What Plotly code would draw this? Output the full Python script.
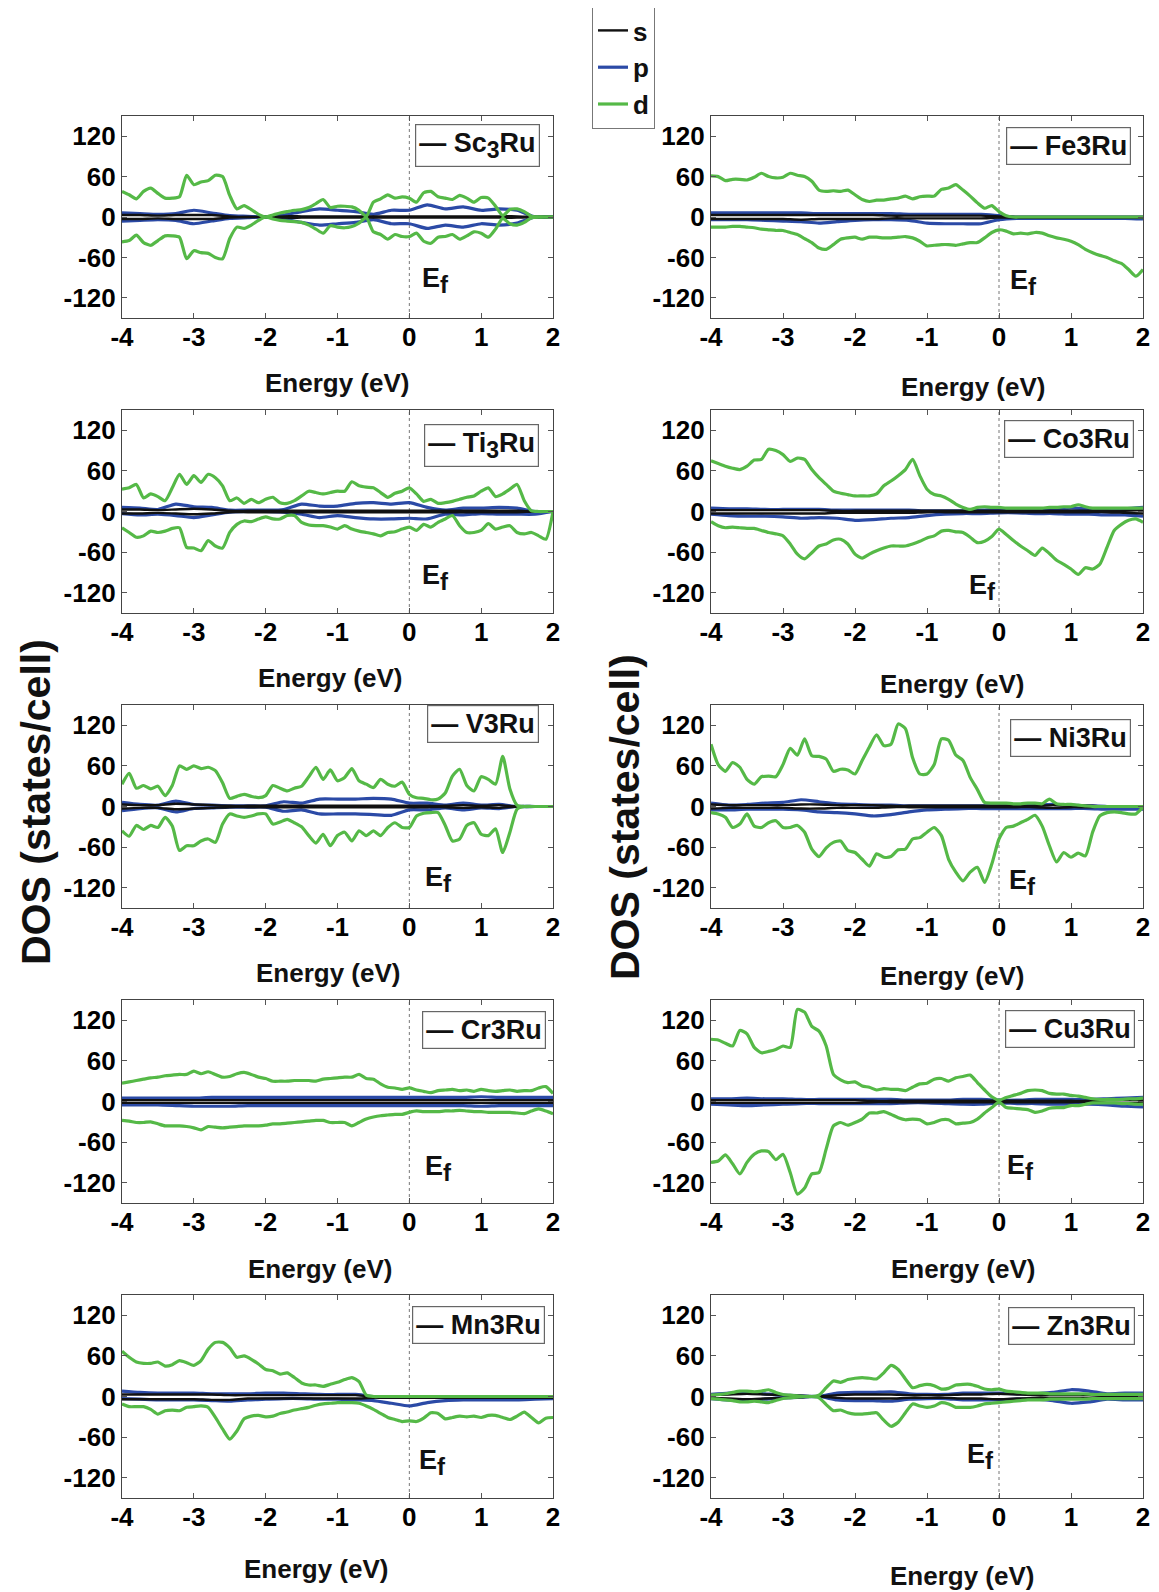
import plotly.graph_objects as go

# The page shows the figure offset by the default 8 px body margin, so the figure is
# made 8 px smaller and every pixel position below is given in page coordinates.
PAGE_W, PAGE_H = 1159, 1592
OFF = 8
W, H = PAGE_W - OFF, PAGE_H - OFF

# ---------------- data -----------------
E_D = [round(-4 + 0.1 * i, 1) for i in range(61)]      # energy grid for d states (eV)
E_SP = [round(-4 + 0.25 * i, 2) for i in range(25)]    # energy grid for s and p states (eV)
X_TICKS = [-4, -3, -2, -1, 0, 1, 2]
Y_TICKS = [-120, -60, 0, 60, 120]

# Sc3Ru
SC_D_UP = [38, 33, 27, 38, 43, 35, 28, 28, 30, 62, 48, 52, 54, 62, 60, 32, 12, 17, 11, 4, 0, 3, 6, 8, 10, 11, 14, 20, 26, 14,
           16, 16, 15, 10, 1, 22, 27, 33, 28, 30, 28, 22, 36, 38, 30, 28, 26, 32, 28, 22, 29, 28, 16, 2, 11, 12, 8, 1, 0, 0, 0]
SC_D_DN = [-37, -35, -27, -38, -42, -35, -28, -28, -30, -62, -50, -53, -54, -60, -62, -32, -15, -17, -12, -5, 0, -3, -5, -6, -7, -8, -12, -18, -24, -13,
           -15, -16, -14, -9, -1, -22, -26, -33, -26, -29, -29, -24, -36, -39, -30, -29, -26, -33, -28, -22, -24, -30, -18, -2, -10, -12, -8, -1, 0, 0, 0]
SC_P_UP = [6, 5, 4, 5, 10, 6, 2, 1, 0, 3, 8, 12, 10, 8, 4, 10, 10, 18, 12, 15, 10, 12, 10, 0, 0]
SC_P_DN = [-6, -5, -4, -5, -10, -6, -2, -1, 0, -3, -8, -12, -10, -8, -4, -10, -10, -17, -12, -15, -10, -12, -9, 0, 0]
SC_S_UP = [3, 3, 2, 3, 3, 3, 1, 0, 0, 1, 1, 1, 1, 1, 1, 1, 1, 1, 1, 1, 1, 1, 1, 0, 0]
SC_S_DN = [-3, -3, -2, -3, -3, -3, -1, 0, 0, -1, -1, -1, -1, -1, -1, -1, -1, -1, -1, -1, -1, -1, -1, 0, 0]

# Fe3Ru
FE_D_UP = [61, 60, 54, 56, 56, 55, 59, 65, 60, 58, 59, 65, 62, 60, 53, 40, 38, 39, 38, 40, 33, 26, 23, 25, 25, 27, 28, 31, 27, 30,
           31, 31, 41, 43, 48, 40, 31, 21, 13, 17, 8, 2, 0, 0, 0, 0, 0, 0, 0, 0, 0, 0, 0, 0, 0, 0, 0, 0, 0, 0, 0]
FE_D_DN = [-15, -15, -15, -14, -14, -15, -16, -18, -19, -20, -20, -23, -26, -32, -38, -46, -48, -41, -33, -31, -30, -33, -30, -30, -31, -31, -30, -29, -31, -36,
           -43, -42, -41, -41, -42, -40, -38, -38, -31, -23, -19, -21, -25, -24, -25, -23, -24, -28, -31, -33, -36, -41, -48, -53, -57, -60, -65, -69, -78, -88, -78]
FE_P_UP = [6, 6, 6, 6, 6, 6, 5, 5, 5, 5, 5, 4, 4, 4, 4, 4, 2, 0, 0, 0, 0, 0, 0, 0, 0]
FE_P_DN = [-4, -4, -4, -5, -6, -7, -9, -7, -5, -4, -4, -5, -9, -10, -10, -10, -4, -2, -2, -2, -2, -2, -2, -2, -3]
FE_S_UP = [3, 3, 3, 3, 3, 3, 3, 3, 3, 3, 2, 2, 2, 2, 2, 2, 1, 0, 0, 0, 0, 0, 0, 0, 0]
FE_S_DN = [-3, -3, -3, -3, -3, -4, -3, -3, -3, -3, -2, -2, -2, -2, -2, -2, -1, -1, -1, -1, -1, -1, -1, -1, -1]

# Ti3Ru
TI_D_UP = [33, 35, 40, 20, 26, 22, 16, 35, 55, 40, 53, 43, 55, 50, 38, 16, 20, 12, 18, 13, 18, 21, 13, 12, 16, 23, 30, 28, 26, 28,
           30, 30, 44, 38, 36, 35, 28, 21, 27, 30, 35, 26, 15, 18, 12, 13, 15, 18, 21, 23, 30, 35, 22, 26, 33, 40, 16, 1, 0, 0, 0]
TI_D_DN = [-24, -31, -38, -36, -29, -31, -29, -25, -24, -53, -54, -58, -43, -51, -54, -31, -19, -14, -15, -11, -8, -11, -11, -6, -6, -16, -20, -21, -21, -23,
           -26, -21, -26, -29, -31, -33, -36, -31, -30, -26, -23, -28, -19, -23, -16, -11, -6, -21, -31, -31, -28, -18, -26, -23, -21, -31, -33, -31, -36, -41, 0]
TI_P_UP = [6, 5, 3, 11, 7, 6, 2, 2, 2, 3, 11, 8, 8, 12, 13, 11, 13, 6, 2, 5, 5, 6, 5, 0, 0]
TI_P_DN = [-3, -5, -4, -6, -9, -5, -1, 0, 0, -1, -4, -9, -6, -9, -11, -11, -10, -11, -4, -5, -3, -4, -4, -4, 0]
TI_S_UP = [3, 3, 2, 3, 4, 3, 1, 1, 1, 1, 1, 1, 1, 1, 1, 1, 1, 1, 1, 1, 1, 1, 1, 0, 0]
TI_S_DN = [-3, -3, -2, -3, -4, -3, -1, -1, -1, -1, -1, -1, -1, -1, -1, -1, -1, -1, -1, -1, -1, -1, -1, 0, 0]

# Co3Ru
CO_D_UP = [75, 71, 67, 64, 62, 67, 76, 77, 92, 90, 84, 74, 79, 77, 62, 50, 40, 30, 27, 25, 23, 23, 23, 26, 38, 45, 53, 62, 77, 53,
           33, 25, 23, 18, 11, 6, 3, 6, 7, 6, 6, 5, 5, 5, 5, 5, 5, 6, 6, 7, 7, 10, 7, 5, 5, 5, 5, 5, 5, 5, 5]
CO_D_DN = [-15, -21, -24, -23, -24, -25, -25, -28, -31, -33, -36, -48, -63, -70, -61, -51, -48, -42, -41, -48, -63, -69, -63, -58, -54, -51, -51, -51, -48, -44,
           -39, -36, -29, -28, -30, -31, -38, -46, -44, -37, -26, -34, -43, -51, -58, -65, -54, -62, -72, -78, -85, -93, -83, -85, -78, -53, -28, -19, -13, -11, -16]
CO_P_UP = [5, 4, 4, 3, 3, 3, 3, 2, 2, 2, 2, 2, 1, 1, 1, 2, 3, 3, 2, 3, 5, 4, 3, 4, 6]
CO_P_DN = [-4, -6, -7, -7, -8, -10, -9, -10, -13, -12, -10, -9, -6, -4, -3, -3, -2, -2, -3, -3, -4, -4, -5, -5, -7]
CO_S_UP = [2, 2, 2, 2, 2, 2, 2, 1, 1, 1, 1, 1, 1, 1, 1, 1, 1, 1, 1, 1, 1, 1, 1, 1, 2]
CO_S_DN = [-3, -3, -3, -3, -3, -3, -3, -2, -2, -2, -2, -2, -1, -1, -1, -1, -1, -1, -1, -1, -1, -1, -1, -2, -3]

# V3Ru
V_D_UP = [33, 49, 27, 31, 26, 30, 16, 31, 60, 55, 60, 56, 58, 53, 35, 12, 15, 18, 15, 13, 16, 31, 27, 23, 27, 30, 44, 58, 40, 54,
          38, 43, 56, 38, 33, 28, 40, 33, 30, 36, 18, 13, 12, 10, 11, 20, 45, 55, 31, 23, 44, 40, 33, 74, 26, 2, 0, 0, 0, 0, 0]
V_D_DN = [-36, -44, -28, -34, -28, -31, -16, -29, -65, -58, -58, -51, -48, -53, -26, -11, -14, -16, -14, -11, -11, -26, -23, -19, -24, -30, -43, -54, -41, -58,
          -43, -38, -51, -36, -43, -36, -43, -31, -24, -31, -31, -14, -10, -9, -9, -28, -51, -48, -28, -24, -41, -43, -33, -68, -38, -4, 0, 0, 0, 0, 0]
V_P_UP = [6, 3, 2, 8, 3, 2, 1, 1, 1, 7, 5, 11, 11, 11, 12, 11, 5, 5, 2, 5, 2, 3, 0, 0, 0]
V_P_DN = [-6, -3, -2, -8, -3, -2, -1, -1, -1, -7, -5, -11, -11, -11, -12, -13, -5, -5, -2, -5, -2, -3, 0, 0, 0]
V_S_UP = [3, 2, 2, 4, 3, 2, 1, 1, 1, 1, 1, 1, 1, 1, 1, 1, 1, 1, 1, 2, 1, 2, 0, 0, 0]
V_S_DN = [-3, -2, -2, -4, -3, -2, -1, -1, -1, -1, -1, -1, -1, -1, -1, -1, -1, -1, -1, -2, -1, -2, 0, 0, 0]

# Ni3Ru
NI_D_UP = [92, 62, 52, 65, 58, 40, 33, 44, 45, 44, 62, 86, 76, 100, 75, 74, 70, 52, 55, 54, 48, 68, 88, 106, 90, 92, 122, 115, 72, 48,
           48, 62, 100, 98, 76, 68, 43, 25, 6, 5, 5, 5, 4, 4, 5, 5, 4, 11, 4, 3, 3, 2, 1, 0, 0, 0, 0, 0, 0, 0, 0]
NI_D_DN = [-9, -11, -16, -31, -26, -11, -29, -31, -24, -21, -31, -31, -28, -38, -63, -74, -61, -53, -51, -65, -68, -78, -88, -70, -75, -74, -64, -63, -48, -46,
           -38, -31, -43, -78, -97, -110, -97, -90, -112, -85, -48, -31, -29, -24, -19, -13, -29, -58, -82, -68, -75, -69, -73, -38, -14, -9, -8, -9, -11, -11, -1]
NI_P_UP = [5, 2, 3, 5, 6, 10, 7, 4, 3, 2, 2, 1, 1, 1, 1, 1, 1, 1, 2, 3, 2, 1, 0, 0, 0]
NI_P_DN = [-5, -5, -4, -4, -4, -5, -8, -9, -11, -14, -12, -8, -5, -4, -3, -3, -3, -3, -3, -3, -3, -3, -4, -4, -4]
NI_S_UP = [3, 2, 2, 2, 2, 3, 3, 2, 2, 2, 1, 1, 1, 1, 1, 1, 1, 1, 1, 2, 1, 1, 0, 0, 0]
NI_S_DN = [-3, -2, -2, -2, -2, -3, -3, -2, -2, -2, -1, -1, -1, -1, -1, -1, -1, -1, -1, -2, -1, -1, 0, 0, 0]

# Cr3Ru
CR_D_UP = [27, 29, 31, 33, 35, 36, 38, 39, 40, 40, 45, 41, 44, 40, 36, 37, 41, 43, 40, 36, 34, 30, 30, 30, 31, 31, 31, 30, 33, 34,
           35, 36, 36, 40, 34, 33, 26, 21, 20, 18, 20, 17, 15, 13, 16, 17, 18, 16, 17, 15, 18, 16, 15, 16, 17, 15, 16, 16, 20, 22, 12]
CR_D_DN = [-28, -29, -31, -31, -30, -33, -36, -36, -36, -37, -39, -42, -37, -38, -39, -38, -37, -36, -36, -36, -35, -33, -33, -32, -31, -30, -29, -28, -28, -31,
           -31, -31, -36, -31, -26, -23, -21, -20, -19, -19, -16, -14, -15, -15, -15, -14, -14, -13, -14, -15, -15, -16, -16, -16, -16, -17, -18, -14, -11, -14, -18]
CR_P_UP = [5, 5, 5, 5, 5, 6, 6, 6, 6, 6, 6, 6, 6, 6, 6, 6, 6, 6, 6, 6, 7, 6, 6, 6, 6]
CR_P_DN = [-5, -5, -5, -6, -7, -7, -7, -6, -6, -6, -6, -6, -6, -6, -6, -6, -6, -6, -6, -6, -7, -6, -6, -6, -6]
CR_S_UP = [2, 2, 2, 2, 2, 2, 2, 2, 2, 2, 2, 2, 2, 2, 2, 2, 2, 2, 2, 2, 2, 2, 2, 2, 2]
CR_S_DN = [-2, -2, -2, -2, -2, -2, -2, -2, -2, -2, -2, -2, -2, -2, -2, -2, -2, -2, -2, -2, -2, -2, -2, -2, -2]

# Cu3Ru
CU_D_UP = [92, 91, 86, 82, 105, 100, 80, 72, 74, 77, 82, 80, 136, 132, 111, 104, 82, 40, 32, 28, 29, 23, 21, 17, 19, 18, 18, 16, 21, 26,
           27, 33, 34, 30, 35, 37, 39, 28, 17, 7, 2, 6, 9, 12, 16, 17, 16, 12, 11, 11, 9, 8, 6, 4, 3, 3, 3, 3, 4, 4, 5]
CU_D_DN = [-90, -88, -79, -92, -107, -90, -78, -73, -74, -86, -78, -105, -137, -128, -107, -105, -70, -36, -31, -35, -31, -26, -17, -17, -15, -19, -24, -27, -26, -27,
           -33, -31, -27, -27, -33, -32, -31, -26, -17, -9, -1, -9, -10, -11, -12, -16, -14, -10, -9, -9, -6, -6, -4, -2, -2, -2, -2, -3, -3, -4, -4]
CU_P_UP = [4, 4, 5, 4, 4, 3, 3, 3, 3, 3, 3, 2, 2, 2, 3, 3, 2, 2, 3, 3, 3, 3, 4, 5, 6]
CU_P_DN = [-4, -5, -6, -5, -4, -3, -3, -3, -3, -3, -3, -2, -2, -3, -4, -4, -2, -3, -3, -4, -4, -4, -5, -7, -8]
CU_S_UP = [2, 2, 2, 2, 2, 2, 2, 2, 2, 1, 1, 1, 1, 1, 1, 1, 1, 1, 1, 1, 1, 1, 2, 2, 2]
CU_S_DN = [-2, -2, -2, -2, -2, -2, -2, -2, -2, -1, -1, -1, -1, -1, -1, -1, -1, -1, -1, -1, -1, -1, -2, -2, -2]

# Mn3Ru
MN_D_UP = [67, 58, 51, 49, 49, 51, 45, 47, 53, 50, 46, 53, 70, 80, 80, 72, 58, 60, 55, 48, 40, 38, 33, 35, 28, 20, 17, 17, 15, 18,
           21, 25, 28, 22, 2, 0, 0, 0, 0, 0, 0, 0, 0, 0, 0, 0, 0, 0, 0, 0, 0, 0, 0, 0, 0, 0, 0, 0, 0, 0, 0]
MN_D_DN = [-11, -15, -15, -15, -19, -26, -21, -20, -21, -16, -15, -14, -16, -31, -48, -63, -51, -33, -29, -28, -30, -29, -25, -23, -20, -18, -16, -13, -11, -10,
           -9, -9, -9, -10, -14, -19, -25, -31, -34, -37, -36, -37, -32, -24, -25, -33, -31, -29, -30, -29, -31, -28, -28, -31, -34, -29, -23, -31, -39, -32, -31]
MN_P_UP = [8, 6, 5, 5, 5, 4, 4, 4, 5, 5, 4, 3, 3, 3, 0, 0, 0, 0, 0, 0, 0, 0, 0, 0, 0]
MN_P_DN = [-3, -4, -5, -5, -5, -6, -7, -5, -4, -3, -3, -4, -4, -5, -6, -10, -14, -9, -6, -5, -5, -5, -5, -4, -3]
MN_S_UP = [3, 3, 3, 3, 3, 3, 2, 2, 2, 2, 2, 2, 2, 2, 0, 0, 0, 0, 0, 0, 0, 0, 0, 0, 0]
MN_S_DN = [-4, -4, -4, -4, -4, -5, -5, -3, -3, -3, -3, -3, -3, -3, -2, -2, -2, -2, -2, -2, -2, -2, -2, -2, -2]

# Zn3Ru
ZN_D_UP = [2, 3, 4, 6, 8, 8, 7, 8, 10, 6, 3, 2, 1, 0, 0, 2, 13, 23, 21, 25, 27, 28, 27, 26, 35, 46, 40, 26, 13, 16,
           18, 16, 11, 12, 17, 18, 18, 15, 11, 10, 11, 8, 7, 6, 5, 5, 5, 4, 4, 4, 4, 4, 4, 3, 3, 3, 3, 3, 3, 3, 3]
ZN_D_DN = [-3, -4, -5, -6, -8, -8, -7, -8, -9, -6, -3, -2, -1, 0, 0, -2, -12, -21, -20, -24, -26, -26, -25, -24, -35, -44, -38, -24, -11, -14,
           -16, -14, -9, -11, -16, -16, -16, -14, -11, -10, -9, -8, -7, -6, -5, -5, -5, -4, -4, -4, -4, -4, -4, -3, -3, -3, -3, -3, -3, -3, -3]
ZN_P_UP = [3, 5, 6, 4, 2, 1, 0, 5, 6, 6, 7, 4, 3, 3, 5, 5, 5, 4, 4, 6, 10, 8, 4, 5, 5]
ZN_P_DN = [-3, -5, -6, -4, -2, -1, 0, -5, -6, -6, -7, -4, -3, -3, -5, -5, -5, -4, -4, -6, -10, -8, -4, -5, -5]
ZN_S_UP = [2, 3, 4, 3, 2, 1, 0, 2, 3, 3, 3, 2, 2, 2, 3, 3, 4, 3, 2, 2, 2, 2, 1, 1, 1]
ZN_S_DN = [-2, -3, -4, -3, -2, -1, 0, -2, -3, -3, -3, -2, -2, -2, -3, -3, -4, -3, -2, -2, -2, -2, -1, -1, -1]

SUB3 = "<sub><span style='font-size:23px'>3</span></sub>"
COMPOUNDS = ["Sc" + SUB3 + "Ru", "Ti" + SUB3 + "Ru", "V3Ru", "Cr3Ru", "Mn3Ru",
             "Fe3Ru", "Co3Ru", "Ni3Ru", "Cu3Ru", "Zn3Ru"]
SERIES = [
    (SC_S_UP, SC_S_DN, SC_P_UP, SC_P_DN, SC_D_UP, SC_D_DN),
    (TI_S_UP, TI_S_DN, TI_P_UP, TI_P_DN, TI_D_UP, TI_D_DN),
    (V_S_UP, V_S_DN, V_P_UP, V_P_DN, V_D_UP, V_D_DN),
    (CR_S_UP, CR_S_DN, CR_P_UP, CR_P_DN, CR_D_UP, CR_D_DN),
    (MN_S_UP, MN_S_DN, MN_P_UP, MN_P_DN, MN_D_UP, MN_D_DN),
    (FE_S_UP, FE_S_DN, FE_P_UP, FE_P_DN, FE_D_UP, FE_D_DN),
    (CO_S_UP, CO_S_DN, CO_P_UP, CO_P_DN, CO_D_UP, CO_D_DN),
    (NI_S_UP, NI_S_DN, NI_P_UP, NI_P_DN, NI_D_UP, NI_D_DN),
    (CU_S_UP, CU_S_DN, CU_P_UP, CU_P_DN, CU_D_UP, CU_D_DN),
    (ZN_S_UP, ZN_S_DN, ZN_P_UP, ZN_P_DN, ZN_D_UP, ZN_D_DN),
]

# ---------------- layout geometry (page pixels) -----------------
COL_X = [(122, 553), (711, 1143)]
ROW_Y = [(116, 318), (410, 613), (705, 908), (1000, 1203), (1295, 1498)]
BOX_C = [(477, 145), (481, 446), (483, 724), (484, 1030), (478, 1325),
         (1068, 146), (1069, 439), (1070, 738), (1070, 1029), (1071, 1326)]
XT_C = [(337, 383), (330, 678), (328, 973), (320, 1269), (316, 1569),
        (973, 387), (952, 684), (952, 976), (963, 1269), (962, 1576)]
EF_POS = [(0.15, -95), (0.15, -97), (0.19, -108), (0.19, -99), (0.11, -97),
          (0.12, -98), (-0.44, -112), (0.11, -112), (0.08, -98), (-0.47, -88)]

GREEN = "#55b947"
BLUE = "#2b4aa6"
BLACK = "#111111"
FONT = "Liberation Sans, Arial, sans-serif"


def px(xp):
    return (xp - OFF) / W


def py(yp):
    return 1 - (yp - OFF) / H


fig = go.Figure()
annotations = []
shapes = []

for i, (name, series) in enumerate(zip(COMPOUNDS, SERIES)):
    col, row = divmod(i, 5)
    k = i + 1
    xa = "x" if k == 1 else f"x{k}"
    ya = "y" if k == 1 else f"y{k}"
    s_up, s_dn, p_up, p_dn, d_up, d_dn = series
    specs = [
        (E_SP, p_up, BLUE, 3.2, "p", 2), (E_SP, p_dn, BLUE, 3.2, "p", 2),
        (E_SP, s_up, BLACK, 2.4, "s", 1), (E_SP, s_dn, BLACK, 2.4, "s", 1),
        (E_D, d_up, GREEN, 3.2, "d", 3), (E_D, d_dn, GREEN, 3.2, "d", 3),
    ]
    shown = set()
    for xs, ys, color, w, grp, rank in specs:
        show = (i == 0 and grp not in shown)
        shown.add(grp)
        fig.add_trace(go.Scatter(
            x=xs, y=ys, mode="lines", xaxis=xa, yaxis=ya,
            line=dict(color=color, width=w, shape="spline", smoothing=0.6),
            name=grp, legendgroup=grp, showlegend=show, legendrank=rank,
            hoverinfo="skip"))

    x0, x1 = COL_X[col]
    y0, y1 = ROW_Y[row]
    axis_common = dict(showline=True, linecolor="#444444", linewidth=1.3, mirror="ticks",
                       ticks="inside", ticklen=5, tickcolor="#555555", showgrid=False,
                       zeroline=False, automargin=False,
                       tickfont=dict(family=FONT, size=26, color="black", weight="bold"))
    fig.layout[("xaxis" if k == 1 else f"xaxis{k}")] = dict(
        domain=[px(x0), px(x1)], range=[-4, 2], tickvals=X_TICKS,
        ticktext=[str(v) for v in X_TICKS], anchor=ya, ticklabelstandoff=-4, **axis_common)
    fig.layout[("yaxis" if k == 1 else f"yaxis{k}")] = dict(
        domain=[py(y1), py(y0)], range=[-150, 150], tickvals=Y_TICKS,
        ticktext=[str(v) for v in Y_TICKS], anchor=xa, **axis_common)

    shapes.append(dict(type="line", xref=xa, yref=f"{ya} domain", x0=0, x1=0, y0=0, y1=1,
                       line=dict(color="#777777", width=1, dash="dot"), layer="below"))
    bx, by = BOX_C[i]
    annotations.append(dict(xref="paper", yref="paper", x=px(bx), y=py(by),
                            text=f"<b>\u2014 {name}</b>", showarrow=False,
                            font=dict(family=FONT, size=27, color="#111111"),
                            bordercolor="#666666", borderwidth=1.2, borderpad=3,
                            bgcolor="white", xanchor="center", yanchor="middle"))
    ex, ey = EF_POS[i]
    annotations.append(dict(xref=xa, yref=ya, x=ex, y=ey,
                            text="<b>E<sub><span style='font-size:24px'>f</span></sub></b>",
                            showarrow=False, xanchor="left", yanchor="middle",
                            font=dict(family=FONT, size=27, color="#111111")))
    tx, ty = XT_C[i]
    annotations.append(dict(xref="paper", yref="paper", x=px(tx), y=py(ty),
                            text="<b>Energy (eV)</b>", showarrow=False,
                            xanchor="center", yanchor="middle",
                            font=dict(family=FONT, size=26, color="#111111")))

for xc, yc in [(36, 802), (625, 817)]:
    annotations.append(dict(xref="paper", yref="paper", x=px(xc), y=py(yc),
                            text="<b>DOS (states/cell)</b>", textangle=-90, showarrow=False,
                            xanchor="center", yanchor="middle",
                            font=dict(family=FONT, size=41, color="#111111")))

fig.update_layout(
    width=W, height=H, margin=dict(l=0, r=0, t=0, b=0, pad=0, autoexpand=False),
    paper_bgcolor="white", plot_bgcolor="white",
    annotations=annotations, shapes=shapes,
    showlegend=True,
    legend=dict(x=px(592), y=py(6), xanchor="left", yanchor="top",
                bordercolor="#777777", borderwidth=1, bgcolor="white",
                font=dict(family=FONT, size=26, color="#111111", weight="bold"),
                itemwidth=30, tracegroupgap=0, itemclick=False),
)

fig.write_html("out.html")
